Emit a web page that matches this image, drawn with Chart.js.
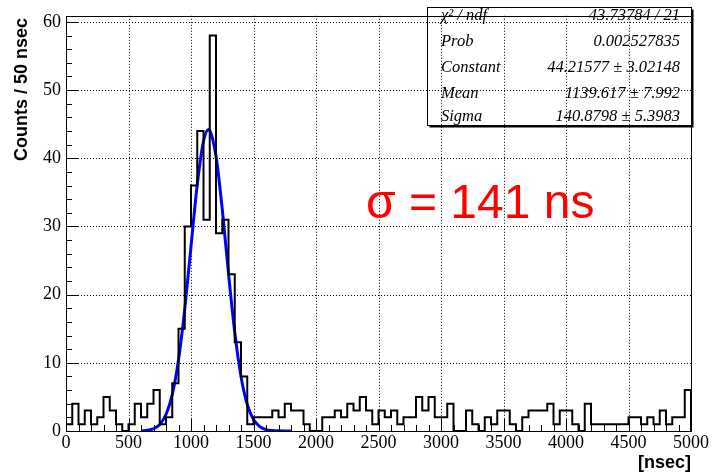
<!DOCTYPE html>
<html>
<head>
<meta charset="utf-8">
<script src="https://cdn.jsdelivr.net/npm/chart.js@4/dist/chart.umd.min.js"></script>
<style>
  html, body { margin: 0; padding: 0; background: #fff; }
  #wrap { width: 712px; height: 476px; position: relative; }
</style>
</head>
<body>
<div id="wrap"><canvas id="c" width="712" height="476"></canvas></div>
<script>
// ---- data ----
const binWidth = 50;            // ns per bin
const xMin = 0, xMax = 5000;
const yMax = 60.9;
const counts = [
  1, 4, 1, 3, 1, 2, 5, 3, 1, 0,
  1, 4, 2, 4, 6, 1, 2, 7, 15, 30,
  36, 44, 31, 58, 29, 31, 23, 13, 8, 1,
  2, 2, 2, 3, 2, 4, 3, 3, 1, 0,
  0, 2, 2, 3, 2, 4, 3, 5, 3, 1,
  3, 2, 3, 1, 2, 2, 5, 3, 5, 2,
  2, 4, 0, 0, 3, 1, 0, 2, 1, 3,
  3, 1, 0, 2, 3, 3, 3, 4, 1, 3,
  3, 1, 0, 4, 1, 1, 1, 1, 1, 1,
  2, 2, 1, 2, 1, 3, 1, 2, 2, 6
];
const fitX = [600, 650, 700, 750, 800, 850, 900, 950, 1000, 1050, 1100, 1140, 1150, 1200, 1250, 1300, 1350, 1400, 1450, 1500, 1550, 1600, 1650, 1700, 1750, 1800];
const fitY = [0.03, 0.11, 0.34, 0.96, 2.42, 5.34, 10.41, 17.87, 27.06, 36.13, 42.50, 44.22, 44.10, 40.33, 32.53, 23.12, 14.50, 8.01, 3.90, 1.68, 0.64, 0.21, 0.06, 0.02, 0.00, 0.00];
const xTicks = [0, 500, 1000, 1500, 2000, 2500, 3000, 3500, 4000, 4500, 5000];
const yTicks = [0, 10, 20, 30, 40, 50, 60];
const xMinorStep = 100;
const yMinorStep = 2;
const statLabels = ['\u03C7\u00B2 / ndf', 'Prob', 'Constant', 'Mean', 'Sigma'];
const statValues = ['43.73784 / 21', '0.002527835', '44.21577 \u00B1 3.02148', '1139.617 \u00B1 7.992', '140.8798 \u00B1 5.3983'];
const yTitle = 'Counts / 50 nsec';
const xTitle = '[nsec]';
const note = '\u03C3 = 141 ns';

// ---- build datasets ----
const histPts = [{x: xMin, y: 0}];
counts.forEach((c, i) => histPts.push({x: xMin + i * binWidth, y: c}));
histPts.push({x: xMax, y: counts[counts.length - 1]});
histPts.push({x: xMax, y: 0});
const fitPts = fitX.map((x, i) => ({x: x, y: fitY[i]}));

const serif = '"Liberation Serif", "Times New Roman", serif';
const sans = '"Liberation Sans", Arial, sans-serif';

const rootPlugin = {
  id: 'rootDecor',
  beforeDatasetsDraw(chart) {
    const {ctx, chartArea: a, scales: {x, y}} = chart;
    ctx.save();
    ctx.strokeStyle = '#000';
    ctx.lineWidth = 1;
    ctx.setLineDash([1, 2]);
    xTicks.forEach(v => {
      if (v === xMin || v === xMax) return;
      const px = Math.round(x.getPixelForValue(v)) + 0.5;
      ctx.beginPath(); ctx.moveTo(px, a.top); ctx.lineTo(px, a.bottom); ctx.stroke();
    });
    yTicks.forEach(v => {
      if (v === 0) return;
      const py = Math.round(y.getPixelForValue(v)) + 0.5;
      ctx.beginPath(); ctx.moveTo(a.left, py); ctx.lineTo(a.right, py); ctx.stroke();
    });
    ctx.restore();
  },
  afterDatasetsDraw(chart) {
    const {ctx, chartArea: a, scales: {x, y}} = chart;
    ctx.save();
    ctx.strokeStyle = '#000';
    ctx.lineWidth = 1;
    ctx.setLineDash([]);
    // x ticks (inward)
    for (let v = xMin; v <= xMax; v += xMinorStep) {
      const major = xTicks.includes(v);
      const px = Math.round(x.getPixelForValue(v)) + 0.5;
      ctx.beginPath(); ctx.moveTo(px, a.bottom); ctx.lineTo(px, a.bottom - (major ? 12 : 6)); ctx.stroke();
    }
    // y ticks (inward)
    for (let v = 0; v <= yMax; v += yMinorStep) {
      const major = yTicks.includes(v);
      const py = Math.round(y.getPixelForValue(v)) + 0.5;
      ctx.beginPath(); ctx.moveTo(a.left, py); ctx.lineTo(a.left + (major ? 12 : 6), py); ctx.stroke();
    }
    // frame
    ctx.strokeRect(Math.round(a.left) + 0.5, Math.round(a.top) + 0.5, Math.round(a.right - a.left), Math.round(a.bottom - a.top));

    // stats box
    const bx = 427.5, by = 7.5, bw = 264, bh = 118;
    ctx.strokeRect(bx, by, bw, bh);
    ctx.lineWidth = 2;
    ctx.beginPath();
    ctx.moveTo(bx + 2, by + bh + 1); ctx.lineTo(bx + bw + 1, by + bh + 1); ctx.lineTo(bx + bw + 1, by + 2);
    ctx.stroke();
    ctx.fillStyle = '#000';
    ctx.font = 'italic 16.5px ' + serif;
    ctx.textBaseline = 'middle';
    const rowsY = [16, 42, 68, 94, 117];
    statLabels.forEach((t, i) => {
      ctx.textAlign = 'left';
      ctx.fillText(t, 441, rowsY[i]);
      ctx.textAlign = 'right';
      ctx.fillText(statValues[i], 680, rowsY[i]);
    });

    // axis titles
    ctx.font = 'bold 18px ' + sans;
    ctx.textAlign = 'right';
    ctx.textBaseline = 'middle';
    ctx.fillText(xTitle, a.right, 463);
    ctx.save();
    ctx.translate(22, 18);
    ctx.rotate(-Math.PI / 2);
    ctx.textAlign = 'right';
    ctx.fillText(yTitle, 0, 0);
    ctx.restore();

    // annotation
    ctx.fillStyle = '#ff0000';
    ctx.font = '48px ' + sans;
    ctx.textAlign = 'left';
    ctx.textBaseline = 'alphabetic';
    ctx.fillText(note, 366, 218);
    ctx.restore();
  }
};

new Chart(document.getElementById('c'), {
  type: 'line',
  data: {
    datasets: [
      {
        label: 'histogram',
        data: histPts,
        stepped: 'before',
        borderColor: '#000',
        borderWidth: 2,
        pointRadius: 0,
        fill: false,
        tension: 0
      },
      {
        label: 'gaus fit',
        data: fitPts,
        borderColor: '#0000ff',
        borderWidth: 3,
        pointRadius: 0,
        fill: false,
        cubicInterpolationMode: 'monotone'
      }
    ]
  },
  options: {
    responsive: false,
    animation: false,
    devicePixelRatio: 1,
    layout: { padding: { top: 8, right: 21, left: 0, bottom: 0 } },
    plugins: { legend: { display: false }, tooltip: { enabled: false } },
    scales: {
      x: {
        type: 'linear', min: xMin, max: xMax,
        afterBuildTicks: s => { s.ticks = xTicks.map(v => ({value: v})); },
        afterFit: s => { s.height = 45; },
        grid: { display: false, drawTicks: false },
        border: { display: false },
        ticks: { font: { family: serif, size: 18 }, color: '#000', padding: 1, maxRotation: 0, autoSkip: false,
                 callback: v => String(v) }
      },
      y: {
        type: 'linear', min: 0, max: yMax,
        afterBuildTicks: s => { s.ticks = yTicks.map(v => ({value: v})); },
        afterFit: s => { s.width = 66; },
        grid: { display: false, drawTicks: false },
        border: { display: false },
        ticks: { font: { family: serif, size: 18 }, color: '#000', padding: 5, callback: v => String(v) }
      }
    }
  },
  plugins: [rootPlugin]
});
</script>
</body>
</html>
